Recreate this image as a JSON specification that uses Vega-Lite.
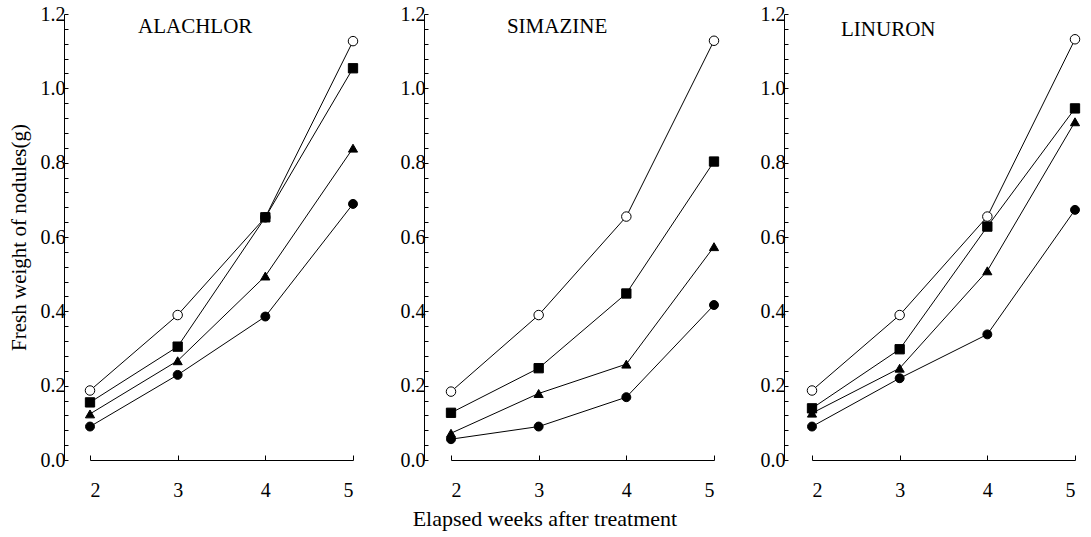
{
  "$schema": "https://vega.github.io/schema/vega-lite/v6.json",
  "padding": {"left": 8, "top": 4, "right": 5, "bottom": 5},
  "background": "white",
  "config": {
    "font": "Liberation Serif",
    "view": {"stroke": null},
    "axis": {"grid": false, "domainColor": "black", "tickColor": "black", "labelColor": "black", "titleColor": "black", "labelFontSize": 20, "titleFontSize": 21, "titleFontWeight": "normal", "labelFont": "Liberation Serif", "titleFont": "Liberation Serif", "labelOverlap": false, "labelBound": false},
    "title": {"font": "Liberation Serif", "fontWeight": "normal", "fontSize": 22, "color": "black"},
    "concat": {"spacing": 98}
  },
  "title": {"text": "Elapsed weeks after treatment", "orient": "bottom", "anchor": "middle", "offset": 9},
  "data": {"values": [
    {"herbicide": "ALACHLOR", "series": "○", "week": 2, "weight": 0.187},
    {"herbicide": "ALACHLOR", "series": "○", "week": 3, "weight": 0.39},
    {"herbicide": "ALACHLOR", "series": "○", "week": 4, "weight": 0.653},
    {"herbicide": "ALACHLOR", "series": "○", "week": 5, "weight": 1.127},
    {"herbicide": "ALACHLOR", "series": "■", "week": 2, "weight": 0.155},
    {"herbicide": "ALACHLOR", "series": "■", "week": 3, "weight": 0.305},
    {"herbicide": "ALACHLOR", "series": "■", "week": 4, "weight": 0.653},
    {"herbicide": "ALACHLOR", "series": "■", "week": 5, "weight": 1.054},
    {"herbicide": "ALACHLOR", "series": "▲", "week": 2, "weight": 0.124},
    {"herbicide": "ALACHLOR", "series": "▲", "week": 3, "weight": 0.267},
    {"herbicide": "ALACHLOR", "series": "▲", "week": 4, "weight": 0.495},
    {"herbicide": "ALACHLOR", "series": "▲", "week": 5, "weight": 0.839},
    {"herbicide": "ALACHLOR", "series": "●", "week": 2, "weight": 0.09},
    {"herbicide": "ALACHLOR", "series": "●", "week": 3, "weight": 0.229},
    {"herbicide": "ALACHLOR", "series": "●", "week": 4, "weight": 0.386},
    {"herbicide": "ALACHLOR", "series": "●", "week": 5, "weight": 0.689},
    {"herbicide": "SIMAZINE", "series": "○", "week": 2, "weight": 0.184},
    {"herbicide": "SIMAZINE", "series": "○", "week": 3, "weight": 0.39},
    {"herbicide": "SIMAZINE", "series": "○", "week": 4, "weight": 0.655},
    {"herbicide": "SIMAZINE", "series": "○", "week": 5, "weight": 1.128},
    {"herbicide": "SIMAZINE", "series": "■", "week": 2, "weight": 0.127},
    {"herbicide": "SIMAZINE", "series": "■", "week": 3, "weight": 0.247},
    {"herbicide": "SIMAZINE", "series": "■", "week": 4, "weight": 0.448},
    {"herbicide": "SIMAZINE", "series": "■", "week": 5, "weight": 0.803},
    {"herbicide": "SIMAZINE", "series": "▲", "week": 2, "weight": 0.072},
    {"herbicide": "SIMAZINE", "series": "▲", "week": 3, "weight": 0.179},
    {"herbicide": "SIMAZINE", "series": "▲", "week": 4, "weight": 0.258},
    {"herbicide": "SIMAZINE", "series": "▲", "week": 5, "weight": 0.574},
    {"herbicide": "SIMAZINE", "series": "●", "week": 2, "weight": 0.056},
    {"herbicide": "SIMAZINE", "series": "●", "week": 3, "weight": 0.09},
    {"herbicide": "SIMAZINE", "series": "●", "week": 4, "weight": 0.169},
    {"herbicide": "SIMAZINE", "series": "●", "week": 5, "weight": 0.417},
    {"herbicide": "LINURON", "series": "○", "week": 2, "weight": 0.187},
    {"herbicide": "LINURON", "series": "○", "week": 3, "weight": 0.39},
    {"herbicide": "LINURON", "series": "○", "week": 4, "weight": 0.655},
    {"herbicide": "LINURON", "series": "○", "week": 5, "weight": 1.132},
    {"herbicide": "LINURON", "series": "■", "week": 2, "weight": 0.139},
    {"herbicide": "LINURON", "series": "■", "week": 3, "weight": 0.298},
    {"herbicide": "LINURON", "series": "■", "week": 4, "weight": 0.628},
    {"herbicide": "LINURON", "series": "■", "week": 5, "weight": 0.946},
    {"herbicide": "LINURON", "series": "▲", "week": 2, "weight": 0.126},
    {"herbicide": "LINURON", "series": "▲", "week": 3, "weight": 0.247},
    {"herbicide": "LINURON", "series": "▲", "week": 4, "weight": 0.509},
    {"herbicide": "LINURON", "series": "▲", "week": 5, "weight": 0.91},
    {"herbicide": "LINURON", "series": "●", "week": 2, "weight": 0.09},
    {"herbicide": "LINURON", "series": "●", "week": 3, "weight": 0.22},
    {"herbicide": "LINURON", "series": "●", "week": 4, "weight": 0.338},
    {"herbicide": "LINURON", "series": "●", "week": 5, "weight": 0.673}
  ]},
  "bounds": "flush",
  "hconcat": [
    {
      "width": 263, "height": 446,
      "layer": [
        {
          "transform": [{"filter": "datum.herbicide === 'ALACHLOR'"}],
          "mark": {"type": "line", "color": "black", "strokeWidth": 1},
          "encoding": {
            "x": {"field": "week", "type": "quantitative", "scale": {"domain": [2, 5], "nice": false, "zero": false}, "axis": {"title": null, "values": [2, 3, 4, 5], "format": "d", "tickSize": -5, "labelPadding": 25, "labelFontSize": 20, "labelOverlap": false}},
            "y": {"field": "weight", "type": "quantitative", "scale": {"domain": [0, 1.2], "nice": false}, "axis": {"title": "Fresh weight of nodules(g)", "titleFontSize": 21, "offset": 26, "tickCount": 40, "values": [0, 0.04, 0.08, 0.12, 0.16, 0.2, 0.24, 0.28, 0.32, 0.36, 0.4, 0.44, 0.48, 0.52, 0.56, 0.6, 0.64, 0.68, 0.72, 0.76, 0.8, 0.84, 0.88, 0.92, 0.96, 1.0, 1.04, 1.08, 1.12, 1.16, 1.2], "labelExpr": "abs(datum.value*5 - round(datum.value*5)) < 0.001 ? format(datum.value, '.1f') : ''", "labelOverlap": false, "labelFontSize": 20, "tickSize": -4, "labelPadding": 3, "titlePadding": 11}},
            "detail": {"field": "series"}
          }
        },
        {
          "transform": [{"filter": "datum.herbicide === 'ALACHLOR'"}],
          "mark": {"type": "point", "filled": true, "stroke": "black", "strokeWidth": 1, "opacity": 1},
          "encoding": {
            "x": {"field": "week", "type": "quantitative"},
            "y": {"field": "weight", "type": "quantitative"},
            "shape": {"field": "series", "scale": {"domain": ["○", "■", "▲", "●"], "range": ["circle", "square", "triangle-up", "circle"]}, "legend": null},
            "fill": {"field": "series", "scale": {"domain": ["○", "■", "▲", "●"], "range": ["white", "black", "black", "black"]}, "legend": null},
            "size": {"field": "series", "scale": {"domain": ["○", "■", "▲", "●"], "range": [90, 80, 80, 70]}, "legend": null}
          }
        },
        {
          "data": {"values": [{"herbicide": "ALACHLOR"}]},
          "mark": {"type": "text", "fontSize": 21, "color": "black", "font": "Liberation Serif"},
          "encoding": {"text": {"field": "herbicide"}, "x": {"datum": 3.2}, "y": {"datum": 1.165}}
        }
      ]
    },
    {
      "width": 263, "height": 446,
      "layer": [
        {
          "transform": [{"filter": "datum.herbicide === 'SIMAZINE'"}],
          "mark": {"type": "line", "color": "black", "strokeWidth": 1},
          "encoding": {
            "x": {"field": "week", "type": "quantitative", "scale": {"domain": [2, 5], "nice": false, "zero": false}, "axis": {"title": null, "values": [2, 3, 4, 5], "format": "d", "tickSize": -5, "labelPadding": 25, "labelFontSize": 20, "labelOverlap": false}},
            "y": {"field": "weight", "type": "quantitative", "scale": {"domain": [0, 1.2], "nice": false}, "axis": {"title": null, "offset": 27, "tickCount": 40, "values": [0, 0.04, 0.08, 0.12, 0.16, 0.2, 0.24, 0.28, 0.32, 0.36, 0.4, 0.44, 0.48, 0.52, 0.56, 0.6, 0.64, 0.68, 0.72, 0.76, 0.8, 0.84, 0.88, 0.92, 0.96, 1.0, 1.04, 1.08, 1.12, 1.16, 1.2], "labelExpr": "abs(datum.value*5 - round(datum.value*5)) < 0.001 ? format(datum.value, '.1f') : ''", "labelOverlap": false, "labelFontSize": 20, "tickSize": -4, "labelPadding": 3}},
            "detail": {"field": "series"}
          }
        },
        {
          "transform": [{"filter": "datum.herbicide === 'SIMAZINE'"}],
          "mark": {"type": "point", "filled": true, "stroke": "black", "strokeWidth": 1, "opacity": 1},
          "encoding": {
            "x": {"field": "week", "type": "quantitative"},
            "y": {"field": "weight", "type": "quantitative"},
            "shape": {"field": "series", "scale": {"domain": ["○", "■", "▲", "●"], "range": ["circle", "square", "triangle-up", "circle"]}, "legend": null},
            "fill": {"field": "series", "scale": {"domain": ["○", "■", "▲", "●"], "range": ["white", "black", "black", "black"]}, "legend": null},
            "size": {"field": "series", "scale": {"domain": ["○", "■", "▲", "●"], "range": [90, 80, 80, 70]}, "legend": null}
          }
        },
        {
          "data": {"values": [{"herbicide": "SIMAZINE"}]},
          "mark": {"type": "text", "fontSize": 21, "color": "black", "font": "Liberation Serif"},
          "encoding": {"text": {"field": "herbicide"}, "x": {"datum": 3.21}, "y": {"datum": 1.165}}
        }
      ]
    },
    {
      "width": 263, "height": 446,
      "layer": [
        {
          "transform": [{"filter": "datum.herbicide === 'LINURON'"}],
          "mark": {"type": "line", "color": "black", "strokeWidth": 1},
          "encoding": {
            "x": {"field": "week", "type": "quantitative", "scale": {"domain": [2, 5], "nice": false, "zero": false}, "axis": {"title": null, "values": [2, 3, 4, 5], "format": "d", "tickSize": -5, "labelPadding": 25, "labelFontSize": 20, "labelOverlap": false}},
            "y": {"field": "weight", "type": "quantitative", "scale": {"domain": [0, 1.2], "nice": false}, "axis": {"title": null, "offset": 28, "tickCount": 40, "values": [0, 0.04, 0.08, 0.12, 0.16, 0.2, 0.24, 0.28, 0.32, 0.36, 0.4, 0.44, 0.48, 0.52, 0.56, 0.6, 0.64, 0.68, 0.72, 0.76, 0.8, 0.84, 0.88, 0.92, 0.96, 1.0, 1.04, 1.08, 1.12, 1.16, 1.2], "labelExpr": "abs(datum.value*5 - round(datum.value*5)) < 0.001 ? format(datum.value, '.1f') : ''", "labelOverlap": false, "labelFontSize": 20, "tickSize": -4, "labelPadding": 3}},
            "detail": {"field": "series"}
          }
        },
        {
          "transform": [{"filter": "datum.herbicide === 'LINURON'"}],
          "mark": {"type": "point", "filled": true, "stroke": "black", "strokeWidth": 1, "opacity": 1},
          "encoding": {
            "x": {"field": "week", "type": "quantitative"},
            "y": {"field": "weight", "type": "quantitative"},
            "shape": {"field": "series", "scale": {"domain": ["○", "■", "▲", "●"], "range": ["circle", "square", "triangle-up", "circle"]}, "legend": null},
            "fill": {"field": "series", "scale": {"domain": ["○", "■", "▲", "●"], "range": ["white", "black", "black", "black"]}, "legend": null},
            "size": {"field": "series", "scale": {"domain": ["○", "■", "▲", "●"], "range": [90, 80, 80, 70]}, "legend": null}
          }
        },
        {
          "data": {"values": [{"herbicide": "LINURON"}]},
          "mark": {"type": "text", "fontSize": 21, "color": "black", "font": "Liberation Serif"},
          "encoding": {"text": {"field": "herbicide"}, "x": {"datum": 2.87}, "y": {"datum": 1.157}}
        }
      ]
    }
  ]
}
